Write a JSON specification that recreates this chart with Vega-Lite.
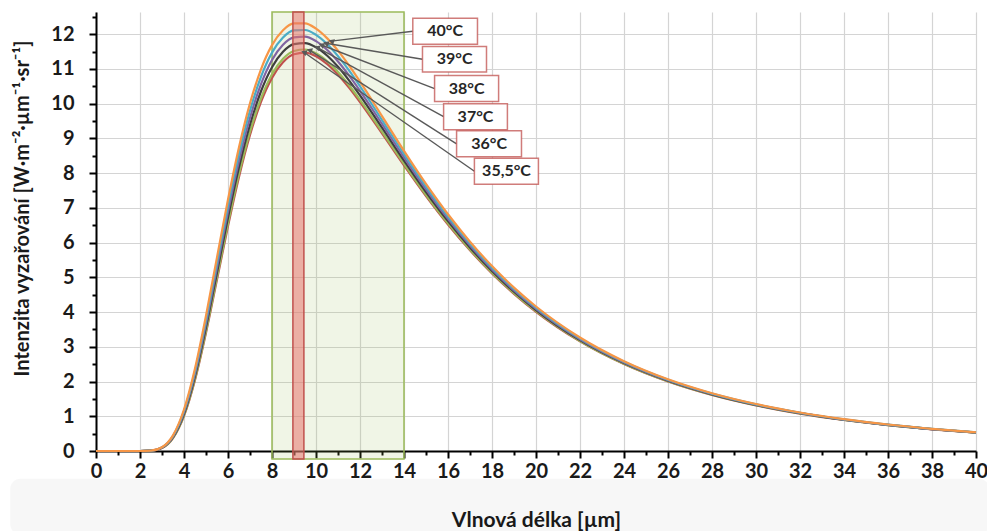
{
  "$schema": "https://vega.github.io/schema/vega-lite/v6.json",
  "width": 880,
  "height": 439,
  "autosize": {"type": "none"},
  "padding": {"left": 96, "top": 12, "right": 11, "bottom": 80},
  "background": "white",
  "config": {"view": {"stroke": null}, "font": "Lato"},
  "datasets": {
    "curves": [
      {"wl":0,"c355":0,"c36":0,"c37":0,"c38":0,"c39":0,"c40":0},
      {"wl":2,"c355":0.0003,"c36":0.0003,"c37":0.0003,"c38":0.0003,"c39":0.0003,"c40":0.0004},
      {"wl":2.5,"c355":0.0097,"c36":0.0100,"c37":0.0107,"c38":0.0113,"c39":0.0120,"c40":0.0127},
      {"wl":3,"c355":0.0875,"c36":0.0897,"c37":0.0943,"c38":0.0991,"c39":0.1042,"c40":0.1094},
      {"wl":3.5,"c355":0.3727,"c36":0.3808,"c37":0.3975,"c38":0.4148,"c39":0.4327,"c40":0.4514},
      {"wl":4,"c355":1.0103,"c36":1.0294,"c37":1.0688,"c38":1.1093,"c39":1.1511,"c40":1.1945},
      {"wl":4.5,"c355":2.0466,"c36":2.0811,"c37":2.1516,"c38":2.2240,"c39":2.2984,"c40":2.3753},
      {"wl":5,"c355":3.4052,"c36":3.4567,"c37":3.5620,"c38":3.6697,"c39":3.7800,"c40":3.8935},
      {"wl":5.5,"c355":4.9358,"c36":5.0035,"c37":5.1419,"c38":5.2831,"c39":5.4271,"c40":5.5752},
      {"wl":6,"c355":6.4752,"c36":6.5567,"c37":6.7227,"c38":6.8918,"c39":7.0638,"c40":7.2403},
      {"wl":6.5,"c355":7.8914,"c36":7.9831,"c37":8.1694,"c38":8.3589,"c39":8.5513,"c40":8.7484},
      {"wl":7,"c355":9.0973,"c36":9.1954,"c37":9.3946,"c38":9.5966,"c39":9.8017,"c40":10.0112},
      {"wl":7.5,"c355":10.0516,"c36":10.1526,"c37":10.3577,"c38":10.5655,"c39":10.7761,"c40":10.9909},
      {"wl":8,"c355":10.7442,"c36":10.8457,"c37":11.0515,"c38":11.2600,"c39":11.4708,"c40":11.6858},
      {"wl":8.5,"c355":11.1922,"c36":11.2918,"c37":11.4938,"c38":11.6979,"c39":11.9041,"c40":12.1144},
      {"wl":9,"c355":11.4224,"c36":11.5186,"c37":11.7133,"c38":11.9099,"c39":12.1086,"c40":12.3106},
      {"wl":9.5,"c355":11.4687,"c36":11.5602,"c37":11.7456,"c38":11.9328,"c39":12.1216,"c40":12.3134},
      {"wl":10,"c355":11.3654,"c36":11.4518,"c37":11.6265,"c38":11.8027,"c39":11.9805,"c40":12.1610},
      {"wl":10.5,"c355":11.1449,"c36":11.2257,"c37":11.3890,"c38":11.5540,"c39":11.7199,"c40":11.8885},
      {"wl":11,"c355":10.8357,"c36":10.9110,"c37":11.0630,"c38":11.2161,"c39":11.3703,"c40":11.5267},
      {"wl":11.5,"c355":10.4626,"c36":10.5322,"c37":10.6731,"c38":10.8146,"c39":10.9574,"c40":11.1019},
      {"wl":12,"c355":10.0459,"c36":10.1102,"c37":10.2400,"c38":10.3707,"c39":10.5022,"c40":10.6354},
      {"wl":13,"c355":9.1439,"c36":9.1983,"c37":9.3081,"c38":9.4186,"c39":9.5296,"c40":9.6421},
      {"wl":14,"c355":8.2237,"c36":8.2695,"c37":8.3620,"c38":8.4548,"c39":8.5481,"c40":8.6425},
      {"wl":15,"c355":7.3398,"c36":7.3783,"c37":7.4558,"c38":7.5337,"c39":7.6119,"c40":7.6910},
      {"wl":16,"c355":6.5205,"c36":6.5528,"c37":6.6180,"c38":6.6834,"c39":6.7491,"c40":6.8155},
      {"wl":17,"c355":5.7775,"c36":5.8048,"c37":5.8599,"c38":5.9150,"c39":5.9705,"c40":6.0264},
      {"wl":18,"c355":5.1137,"c36":5.1367,"c37":5.1832,"c38":5.2299,"c39":5.2766,"c40":5.3238},
      {"wl":19,"c355":4.5258,"c36":4.5454,"c37":4.5847,"c38":4.6241,"c39":4.6637,"c40":4.7042},
      {"wl":20,"c355":4.0083,"c36":4.0250,"c37":4.0586,"c38":4.0923,"c39":4.1261,"c40":4.1601},
      {"wl":22,"c355":3.1565,"c36":3.1687,"c37":3.1934,"c38":3.2181,"c39":3.2429,"c40":3.2679},
      {"wl":24,"c355":2.5035,"c36":2.5126,"c37":2.5311,"c38":2.5495,"c39":2.5680,"c40":2.5866},
      {"wl":26,"c355":2.0022,"c36":2.0091,"c37":2.0231,"c38":2.0371,"c39":2.0511,"c40":2.0652},
      {"wl":28,"c355":1.6151,"c36":1.6205,"c37":1.6312,"c38":1.6420,"c39":1.6528,"c40":1.6637},
      {"wl":30,"c355":1.3142,"c36":1.3184,"c37":1.3268,"c38":1.3352,"c39":1.3436,"c40":1.3521},
      {"wl":32,"c355":1.0783,"c36":1.0816,"c37":1.0882,"c38":1.0949,"c39":1.1015,"c40":1.1082},
      {"wl":34,"c355":0.8918,"c36":0.8945,"c37":0.8998,"c38":0.9051,"c39":0.9104,"c40":0.9158},
      {"wl":36,"c355":0.7432,"c36":0.7453,"c37":0.7496,"c38":0.7539,"c39":0.7582,"c40":0.7625},
      {"wl":38,"c355":0.6237,"c36":0.6255,"c37":0.6290,"c38":0.6325,"c39":0.6360,"c40":0.6395},
      {"wl":40,"c355":0.5270,"c36":0.5284,"c37":0.5313,"c38":0.5342,"c39":0.5371,"c40":0.5400}
    ],
    "window": [{"x1": 8, "x2": 14, "y1": -0.23, "y2": 12.64}],
    "peak": [{"x1": 8.95, "x2": 9.45, "y1": -0.23, "y2": 12.64}],
    "band": [{"x1": -3.9, "x2": 40.6, "y1": -2.4, "y2": -0.8}],
    "labels": [
      {"lab":"40°C","x1":14.40,"x2":17.34,"y1":11.71,"y2":12.46,"xc":15.87,"yc":12.085,"tx":10.7,"ty":11.8},
      {"lab":"39°C","x1":14.84,"x2":17.75,"y1":10.91,"y2":11.65,"xc":16.30,"yc":11.28,"tx":10.45,"ty":11.74},
      {"lab":"38°C","x1":15.39,"x2":18.30,"y1":10.06,"y2":10.81,"xc":16.85,"yc":10.435,"tx":10.25,"ty":11.69},
      {"lab":"37°C","x1":15.80,"x2":18.70,"y1":9.25,"y2":10.00,"xc":17.25,"yc":9.625,"tx":10.05,"ty":11.62},
      {"lab":"36°C","x1":16.39,"x2":19.34,"y1":8.47,"y2":9.22,"xc":17.87,"yc":8.845,"tx":9.7,"ty":11.54},
      {"lab":"35,5°C","x1":17.20,"x2":20.11,"y1":7.68,"y2":8.43,"xc":18.66,"yc":8.055,"tx":9.45,"ty":11.48}
    ]
  },
  "resolve": {"axis": {"x": "independent", "y": "independent"}},
  "layer": [
    {
      "data": {"name": "window"},
      "mark": {"type": "rect", "fill": "#9BBB59", "fillOpacity": 0.15, "stroke": "#9BBB59", "strokeWidth": 1.5},
      "encoding": {
        "x": {"field": "x1", "type": "quantitative", "scale": {"domain": [0, 40], "nice": false, "zero": false},
              "axis": {"orient": "bottom", "values": [1,3,5,7,9,11,13,15,17,19,21,23,25,27,29,31,33,35,37,39], "labels": false, "grid": false, "domain": false, "ticks": true, "tickSize": 4, "tickWidth": 2, "tickColor": "#000", "title": null}},
        "x2": {"field": "x2"},
        "y": {"field": "y1", "type": "quantitative", "scale": {"domain": [0, 12.64], "nice": false, "zero": false},
              "axis": {"orient": "left", "values": [0.5,1.5,2.5,3.5,4.5,5.5,6.5,7.5,8.5,9.5,10.5,11.5,12.5], "labels": false, "grid": false, "domain": false, "ticks": true, "tickSize": 4, "tickWidth": 2, "tickColor": "#000", "title": null}},
        "y2": {"field": "y2"}
      }
    },
    {
      "data": {"name": "band"},
      "mark": {"type": "rect", "fill": "#000000", "fillOpacity": 0.03, "cornerRadius": 10},
      "encoding": {
        "x": {"field": "x1", "type": "quantitative", "axis": null},
        "x2": {"field": "x2"},
        "y": {"field": "y1", "type": "quantitative", "axis": null},
        "y2": {"field": "y2"}
      }
    },
    {
      "data": {"name": "curves"},
      "transform": [{"fold": ["c355", "c36", "c37", "c38", "c39", "c40"], "as": ["series", "val"]}],
      "mark": {"type": "line", "strokeWidth": 2.2, "interpolate": "monotone"},
      "encoding": {
        "x": {"field": "wl", "type": "quantitative",
              "axis": {"orient": "bottom", "values": [0,2,4,6,8,10,12,14,16,18,20,22,24,26,28,30,32,34,36,38,40],
                       "title": "Vlnová délka  [µm]", "grid": true, "gridColor": "#D4D4D4", "gridWidth": 1.2,
                       "domainColor": "#000", "domainWidth": 2, "tickColor": "#000", "tickWidth": 2, "tickSize": 7,
                       "labelFont": "Lato", "labelFontWeight": "bold", "labelFontSize": 20, "labelColor": "#1a1a1a",
                       "labelPadding": 3, "labelFlush": false, "labelOverlap": false,
                       "titleFont": "Lato", "titleFontSize": 21, "titleFontWeight": "bold", "titleColor": "#1a1a1a", "titlePadding": 28}},
        "y": {"field": "val", "type": "quantitative",
              "axis": {"orient": "left", "values": [0,1,2,3,4,5,6,7,8,9,10,11,12],
                       "title": "Intenzita vyzařování [W·m⁻²·µm⁻¹·sr⁻¹]", "grid": true, "gridColor": "#D4D4D4", "gridWidth": 1.2,
                       "domainColor": "#000", "domainWidth": 2, "tickColor": "#000", "tickWidth": 2, "tickSize": 7,
                       "labelFont": "Lato", "labelFontWeight": "bold", "labelFontSize": 20, "labelColor": "#1a1a1a",
                       "labelPadding": 15, "labelFlush": false, "labelOverlap": false,
                       "titleFont": "Lato", "titleFontSize": 20, "titleFontWeight": "bold", "titleColor": "#1a1a1a",
                       "titleX": -74, "titleY": 196, "titleBaseline": "middle", "titleAngle": -90}},
        "color": {"field": "series", "type": "nominal", "legend": null,
                  "scale": {"domain": ["c355", "c36", "c37", "c38", "c39", "c40"],
                            "range": ["#C0504D", "#9BBB59", "#3F3F3F", "#8064A2", "#4BACC6", "#F79646"]}}
      }
    },
    {
      "data": {"name": "peak"},
      "mark": {"type": "rect", "fill": "#E8756E", "fillOpacity": 0.55, "stroke": "#C0504D", "strokeWidth": 1.5},
      "encoding": {
        "x": {"field": "x1", "type": "quantitative", "axis": null},
        "x2": {"field": "x2"},
        "y": {"field": "y1", "type": "quantitative", "axis": null},
        "y2": {"field": "y2"}
      }
    },
    {
      "data": {"name": "labels"},
      "mark": {"type": "rule", "color": "#595959", "strokeWidth": 1.4},
      "encoding": {
        "x": {"field": "x1", "type": "quantitative", "axis": null},
        "y": {"field": "yc", "type": "quantitative", "axis": null},
        "x2": {"field": "tx"},
        "y2": {"field": "ty"}
      }
    },
    {
      "data": {"name": "labels"},
      "mark": {"type": "point", "shape": "triangle-left", "filled": true, "size": 40, "angle": 20, "color": "#595959", "opacity": 1},
      "encoding": {
        "x": {"field": "tx", "type": "quantitative", "axis": null},
        "y": {"field": "ty", "type": "quantitative", "axis": null}
      }
    },
    {
      "data": {"name": "labels"},
      "mark": {"type": "rect", "fill": "white", "stroke": "#C0504D", "strokeOpacity": 0.75, "strokeWidth": 1.5},
      "encoding": {
        "x": {"field": "x1", "type": "quantitative", "axis": null},
        "x2": {"field": "x2"},
        "y": {"field": "y1", "type": "quantitative", "axis": null},
        "y2": {"field": "y2"}
      }
    },
    {
      "data": {"name": "labels"},
      "mark": {"type": "text", "font": "Lato", "fontWeight": "bold", "fontSize": 16, "color": "#262626", "align": "center", "baseline": "middle"},
      "encoding": {
        "x": {"field": "xc", "type": "quantitative", "axis": null},
        "y": {"field": "yc", "type": "quantitative", "axis": null},
        "text": {"field": "lab"}
      }
    }
  ]
}
